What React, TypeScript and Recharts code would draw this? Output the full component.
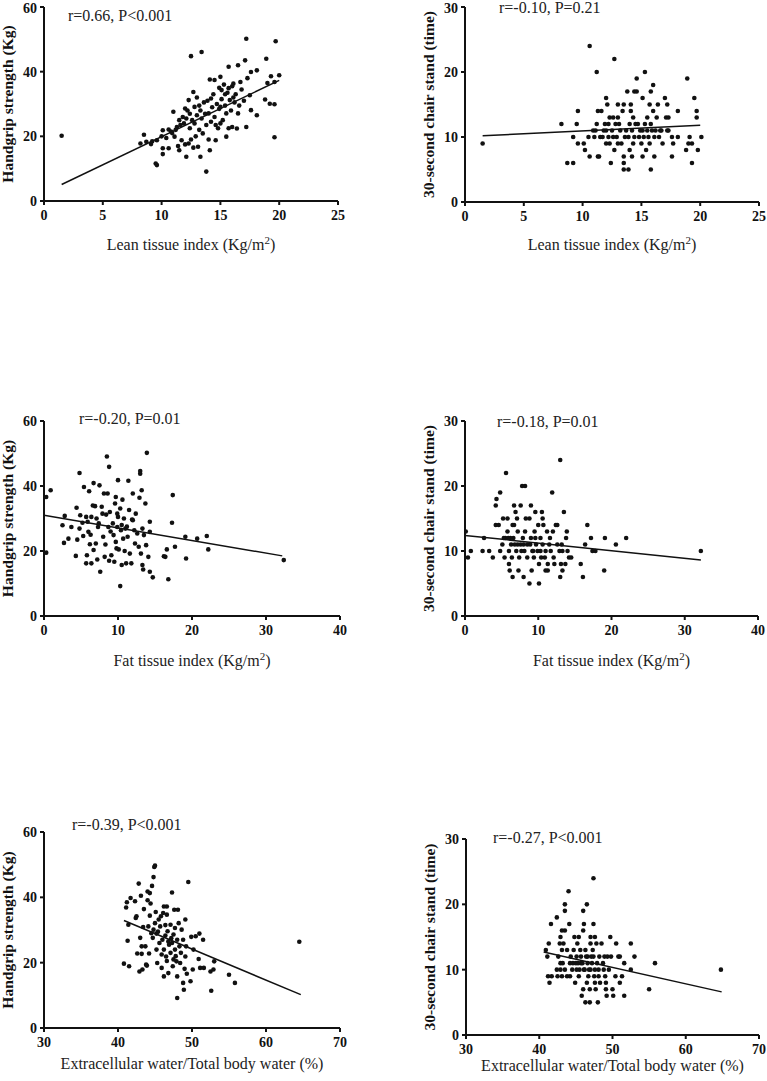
import React from 'react';
import { ScatterChart, Scatter, XAxis, YAxis, ReferenceLine } from 'recharts';

type Pt = [number, number];

const leanTicks = [0, 5, 10, 15, 20, 25];
const fatTicks = [0, 10, 20, 30, 40];
const ecwTicks = [30, 40, 50, 60, 70];
const gripTicks = [0, 20, 40, 60];
const standTicks = [0, 10, 20, 30];

const leanLabel = 'Lean tissue index (Kg/m';
const fatLabel = 'Fat tissue index (Kg/m';
const ecwLabel = 'Extracellular water/Total body water (%)';
const gripLabel = 'Handgrip strength (Kg)';
const standLabel = '30-second chair stand (time)';

// Lean tissue index vs handgrip
const leanGrip: Pt[] = [
  [1.5, 20.2], [8.2, 17.8], [8.5, 20.5], [8.7, 18.3], [9.1, 17.6], [9.2, 18.5], [9.5, 11.6], [9.6, 11.1],
  [9.6, 18.8], [10.0, 20.0], [10.1, 21.9], [10.1, 14.5], [10.1, 16.3], [10.4, 19.5], [10.6, 22.1], [10.6, 16.3],
  [10.8, 21.5], [10.9, 21.0], [11.0, 27.6], [11.1, 19.9], [11.2, 22.0], [11.3, 22.9], [11.4, 17.0], [11.5, 25.0],
  [11.5, 15.7], [11.6, 23.5], [11.7, 18.8], [11.8, 26.0], [11.9, 24.0], [12.0, 28.6], [12.0, 17.5], [12.1, 25.5],
  [12.1, 13.7], [12.2, 28.0], [12.3, 17.8], [12.3, 31.2], [12.4, 22.5], [12.5, 44.8], [12.5, 19.0], [12.6, 25.0],
  [12.7, 33.7], [12.7, 16.5], [12.8, 29.1], [12.8, 24.0], [12.9, 20.0], [13.0, 26.5], [13.0, 32.0], [13.1, 16.8],
  [13.2, 22.0], [13.3, 13.7], [13.3, 28.0], [13.4, 46.1], [13.4, 25.5], [13.5, 20.9], [13.6, 30.5], [13.7, 27.0],
  [13.8, 9.1], [13.8, 23.5], [13.9, 31.0], [14.0, 27.1], [14.0, 19.0], [14.1, 37.6], [14.1, 15.7], [14.2, 31.7],
  [14.2, 24.5], [14.3, 29.0], [14.4, 33.0], [14.5, 37.4], [14.5, 26.0], [14.6, 18.8], [14.7, 30.0], [14.8, 22.5],
  [14.9, 28.5], [15.0, 29.1], [15.0, 38.4], [15.0, 24.0], [15.1, 34.3], [15.1, 31.5], [15.2, 25.0], [15.3, 36.0],
  [15.4, 29.5], [15.5, 27.1], [15.5, 19.9], [15.6, 33.5], [15.7, 41.5], [15.7, 34.9], [15.7, 22.5], [15.8, 31.2],
  [15.9, 28.0], [16.0, 22.9], [16.0, 35.5], [16.1, 36.3], [16.2, 30.5], [16.3, 33.0], [16.4, 22.4], [16.5, 42.0],
  [16.5, 27.1], [16.6, 29.5], [16.7, 36.8], [16.8, 34.5], [17.0, 31.0], [17.1, 43.5], [17.2, 50.2], [17.2, 22.9],
  [17.3, 38.0], [17.5, 32.7], [17.6, 28.1], [17.6, 39.9], [18.1, 40.4], [18.1, 26.5], [18.8, 31.4], [18.9, 44.0],
  [19.0, 36.5], [19.2, 30.1], [19.3, 38.6], [19.6, 36.8], [19.6, 29.9], [19.6, 19.7], [19.7, 49.4], [20.0, 38.9],
  [14.9, 35.0], [15.4, 33.0], [13.2, 29.5], [12.4, 27.0], [16.1, 32.0], [14.6, 23.5],
];

// Lean tissue index vs chair stand
const leanStand: Pt[] = [
  [1.5, 9], [8.2, 12], [8.7, 6], [9.2, 6], [9.2, 10], [9.5, 12], [9.6, 14], [9.6, 9], [10.1, 9], [10.2, 8],
  [10.6, 24], [10.6, 7], [10.5, 10], [10.9, 11], [11.0, 10], [11.2, 20], [11.2, 12], [11.3, 14], [11.3, 7],
  [11.4, 7], [11.5, 10], [11.6, 14], [11.7, 10], [11.8, 11], [11.9, 12], [12.0, 16], [12.1, 15], [12.0, 9],
  [12.2, 10], [12.3, 13], [12.3, 9], [12.4, 6], [12.5, 11], [12.6, 13], [12.7, 22], [12.7, 8], [12.8, 12],
  [12.9, 10], [13.0, 15], [13.0, 9], [13.1, 12], [13.2, 11], [13.3, 9], [13.4, 14], [13.5, 15], [13.5, 7],
  [13.5, 6], [13.5, 5], [13.6, 10], [13.7, 11], [13.8, 17], [13.9, 5], [14.0, 8], [14.0, 12], [14.1, 15],
  [14.1, 14], [14.2, 11], [14.3, 13], [14.4, 10], [14.4, 17], [14.5, 12], [14.6, 17], [14.6, 19], [14.7, 12],
  [14.8, 10], [14.9, 11], [15.0, 9], [15.1, 11], [15.1, 16], [15.1, 7], [15.2, 10], [15.3, 20], [15.3, 12],
  [15.4, 8], [15.5, 13], [15.5, 11], [15.6, 10], [15.7, 15], [15.7, 9], [15.8, 17], [15.8, 5], [15.8, 12],
  [15.9, 11], [16.0, 18], [16.0, 14], [16.1, 10], [16.1, 7], [16.2, 11], [16.3, 13], [16.4, 15], [16.5, 10],
  [16.6, 11], [16.7, 11], [16.8, 9], [17.0, 16], [17.1, 13], [17.2, 15], [17.2, 11], [17.3, 13], [17.3, 11],
  [17.6, 10], [17.6, 7], [17.7, 9], [18.1, 10], [18.1, 14], [18.8, 8], [18.9, 19], [19.0, 9], [19.1, 10],
  [19.3, 9], [19.3, 6], [19.5, 16], [19.7, 14], [19.7, 13], [19.8, 8], [20.1, 10], [12.2, 12], [13.9, 10],
  [14.3, 9], [12.6, 10], [11.1, 11], [14.2, 7], [13.0, 13], [12.0, 11],
];

// Fat tissue index vs handgrip
const fatGrip: Pt[] = [
  [0.3, 36.6], [0.3, 19.5], [0.9, 38.7], [2.5, 27.9], [2.7, 22.5], [2.8, 30.8], [3.3, 23.8], [3.7, 27.4],
  [4.3, 18.5], [4.4, 33.3], [4.5, 23.5], [4.8, 44.0], [4.8, 26.9], [4.9, 31.0], [5.2, 28.7], [5.3, 24.6],
  [5.4, 39.7], [5.7, 30.5], [5.7, 16.2], [5.8, 18.7], [6.0, 25.9], [6.1, 38.4], [6.2, 22.1], [6.4, 30.5],
  [6.4, 16.2], [6.7, 20.3], [6.7, 40.9], [6.9, 33.8], [7.0, 22.3], [7.1, 30.0], [7.2, 17.4], [7.3, 27.4],
  [7.5, 40.2], [7.6, 13.6], [7.8, 33.6], [8.0, 24.4], [8.1, 37.7], [8.2, 18.2], [8.4, 31.2], [8.5, 49.1],
  [8.6, 37.7], [8.7, 27.4], [8.8, 45.9], [8.9, 32.0], [9.1, 18.7], [9.3, 28.5], [9.4, 24.9], [9.5, 16.7],
  [9.6, 34.6], [9.7, 36.6], [9.7, 22.8], [9.8, 20.8], [9.9, 27.4], [10.0, 41.8], [10.0, 30.5], [10.1, 20.5],
  [10.3, 9.2], [10.3, 33.1], [10.4, 26.4], [10.5, 15.7], [10.6, 35.8], [10.7, 23.8], [10.8, 30.0], [11.0, 26.9],
  [11.1, 16.2], [11.3, 24.4], [11.4, 41.6], [11.5, 32.6], [11.6, 19.2], [11.8, 16.2], [11.9, 29.7], [12.0, 37.7],
  [12.2, 26.4], [12.3, 22.3], [12.4, 31.5], [12.6, 25.4], [12.8, 21.3], [12.9, 36.4], [13.0, 44.6], [13.0, 43.8],
  [13.1, 19.2], [13.2, 38.7], [13.3, 26.9], [13.3, 15.7], [13.4, 14.3], [13.5, 24.9], [13.7, 34.6], [13.8, 21.8],
  [13.9, 50.2], [14.1, 18.2], [14.3, 29.0], [14.3, 25.9], [14.3, 13.6], [14.7, 11.9], [16.2, 18.4], [16.4, 18.2],
  [16.6, 20.5], [16.8, 11.3], [17.3, 28.7], [17.4, 37.2], [17.7, 21.3], [19.1, 24.4], [19.2, 17.7], [20.7, 23.8],
  [22.0, 24.6], [22.2, 20.5], [32.4, 17.2], [5.9, 29.0], [6.6, 34.0], [7.4, 28.5], [8.3, 22.0], [9.0, 26.0],
  [9.9, 31.5], [10.5, 28.0], [11.2, 27.5], [7.9, 31.5], [6.3, 25.0], [8.8, 17.0], [10.9, 20.0], [12.0, 29.5],
];

// Fat tissue index vs chair stand
const fatStand: Pt[] = [
  [0.1, 13], [0.4, 9], [0.8, 10], [2.4, 10], [2.6, 12], [3.3, 10], [3.8, 9], [4.2, 14], [4.2, 17], [4.3, 18],
  [4.6, 14], [4.8, 19], [4.8, 10], [5.1, 11], [5.2, 15], [5.4, 9], [5.5, 12], [5.6, 22], [5.8, 13], [5.8, 15],
  [6.0, 10], [6.0, 8], [6.1, 7], [6.5, 6], [6.3, 11], [6.4, 9], [6.5, 14], [6.7, 14], [6.6, 12], [6.7, 17],
  [6.9, 16], [7.0, 10], [7.1, 15], [7.2, 13], [7.3, 7], [7.4, 9], [7.6, 11], [7.6, 17], [7.8, 20], [8.2, 20],
  [7.9, 12], [8.0, 6], [8.1, 10], [8.2, 13], [8.3, 15], [8.8, 15], [8.5, 9], [8.5, 11], [8.8, 5], [9.0, 17],
  [9.0, 12], [9.1, 7], [9.2, 10], [9.4, 9], [9.5, 13], [9.6, 16], [9.7, 11], [9.9, 10], [10.0, 14], [10.1, 8],
  [10.1, 5], [10.3, 12], [10.4, 9], [10.5, 16], [10.6, 15], [10.6, 11], [10.7, 14], [11.0, 7], [11.3, 7],
  [11.0, 10], [11.2, 13], [11.3, 8], [11.5, 11], [11.6, 12], [11.7, 10], [11.9, 19], [12.0, 13], [12.1, 9],
  [12.2, 8], [12.4, 14], [12.6, 14], [12.6, 11], [12.9, 10], [13.0, 24], [13.1, 8], [13.0, 6], [13.2, 11],
  [13.3, 10], [13.3, 7], [13.5, 16], [13.7, 8], [13.8, 12], [13.9, 13], [14.0, 10], [14.2, 9], [14.5, 9],
  [15.8, 8], [16.1, 6], [16.4, 11], [16.7, 14], [17.2, 12], [17.4, 10], [17.8, 10], [19.0, 7], [19.1, 12],
  [20.6, 11], [22.0, 12], [32.2, 10], [6.2, 12], [7.2, 11], [8.0, 11], [8.9, 11], [9.6, 12], [10.3, 10],
  [6.8, 11], [7.7, 10], [9.3, 10], [10.9, 9], [5.3, 12], [5.9, 12],
];

// ECW/TBW vs handgrip
const ecwGrip: Pt[] = [
  [40.8, 19.7], [41.1, 36.9], [41.2, 38.5], [41.3, 26.7], [41.4, 31.6], [41.5, 18.9], [41.7, 39.8], [42.3, 38.8],
  [42.4, 33.7], [42.5, 34.2], [42.6, 22.8], [42.8, 44.2], [42.9, 17.3], [43.0, 27.6], [43.1, 40.5], [43.2, 22.7],
  [43.2, 25.0], [43.3, 17.9], [43.4, 30.9], [43.5, 36.4], [43.7, 25.0], [43.8, 19.4], [43.9, 19.1], [44.0, 39.1],
  [44.0, 41.8], [44.1, 31.1], [44.2, 22.8], [44.3, 34.4], [44.3, 41.3], [44.4, 38.1], [44.6, 43.5], [44.7, 27.6],
  [44.8, 46.2], [44.8, 30.1], [44.9, 49.3], [45.0, 49.7], [45.0, 32.1], [45.2, 24.0], [45.2, 28.9], [45.3, 19.9],
  [45.5, 33.2], [45.6, 26.0], [45.7, 31.1], [45.8, 34.2], [45.9, 18.4], [46.1, 35.2], [46.2, 37.2], [46.2, 24.0],
  [46.2, 15.8], [46.4, 28.3], [46.5, 21.9], [46.6, 34.7], [46.6, 37.2], [46.7, 29.6], [46.8, 26.5], [46.8, 16.8],
  [47.3, 41.5], [47.1, 23.0], [47.1, 31.6], [47.3, 26.0], [47.4, 18.9], [47.5, 28.6], [47.6, 36.2], [47.7, 24.0],
  [47.7, 30.6], [47.9, 20.4], [48.0, 27.0], [48.0, 15.8], [48.0, 9.2], [48.1, 36.2], [48.2, 32.1], [48.3, 25.0],
  [48.4, 19.9], [48.6, 30.1], [48.8, 13.8], [48.9, 11.7], [49.0, 18.1], [49.1, 21.9], [49.1, 33.2], [49.2, 25.0],
  [49.3, 16.6], [49.5, 44.7], [49.8, 14.3], [49.9, 27.9], [50.1, 17.9], [50.2, 24.0], [50.5, 28.1], [50.9, 21.1],
  [51.0, 28.9], [51.1, 18.4], [51.5, 27.0], [51.6, 18.4], [52.5, 17.3], [52.6, 11.4], [52.9, 17.9], [53.0, 20.4],
  [55.0, 16.3], [55.8, 13.8], [64.5, 26.4], [45.4, 29.5], [46.0, 27.0], [46.9, 25.5], [47.2, 27.5], [45.9, 22.5],
  [46.4, 31.5], [47.8, 22.0], [48.5, 23.0], [44.5, 29.0], [46.6, 20.5], [47.5, 21.0], [45.1, 35.5], [48.8, 27.0],
];

// ECW/TBW vs chair stand
const ecwStand: Pt[] = [
  [40.9, 13], [41.1, 12], [41.3, 14], [41.2, 9], [41.4, 8], [41.6, 17], [41.7, 9], [42.4, 18], [42.4, 10],
  [42.9, 10], [42.5, 9], [43.1, 9], [42.6, 12], [42.8, 14], [42.9, 11], [42.9, 15], [43.1, 16], [43.5, 16],
  [43.1, 13], [43.2, 11], [43.3, 14], [43.5, 19], [43.5, 20], [43.5, 10], [43.8, 13], [43.8, 9], [44.0, 22],
  [44.1, 17], [44.2, 11], [44.2, 9], [44.3, 12], [44.5, 10], [44.7, 13], [44.8, 15], [44.9, 8], [45.0, 11],
  [45.1, 12], [45.2, 14], [45.4, 15], [45.4, 9], [45.5, 10], [45.6, 13], [45.7, 12], [45.7, 11], [45.8, 6],
  [46.0, 7], [46.0, 19], [46.0, 16], [46.1, 17], [46.1, 10], [46.3, 13], [46.3, 5], [46.4, 12], [46.6, 12],
  [46.5, 20], [46.5, 8], [46.6, 11], [46.7, 9], [46.9, 7], [46.9, 5], [47.0, 14], [47.0, 15], [47.0, 10],
  [47.2, 11], [47.3, 13], [47.4, 24], [47.4, 17], [47.4, 12], [47.5, 9], [47.6, 15], [47.6, 8], [47.7, 7],
  [47.8, 14], [47.9, 11], [48.0, 5], [48.1, 10], [48.1, 9], [48.2, 12], [48.3, 8], [48.5, 14], [48.7, 11],
  [48.8, 10], [48.9, 12], [49.0, 9], [49.1, 8], [49.1, 7], [49.2, 6], [49.3, 12], [49.5, 10], [49.7, 15],
  [49.8, 12], [50.0, 7], [50.1, 6], [50.4, 9], [50.5, 14], [50.8, 12], [51.0, 12], [51.0, 8], [51.3, 9],
  [51.6, 11], [51.6, 6], [52.5, 14], [52.5, 10], [53.0, 12], [55.0, 7], [55.8, 11], [64.8, 10],
  [45.3, 11], [45.9, 11], [46.8, 10], [47.6, 10], [46.2, 10], [44.6, 11], [45.1, 10], [47.1, 12],
];

const leanGripFit: Pt[] = [[1.5, 5.1], [20.0, 37.3]];
const leanStandFit: Pt[] = [[1.5, 10.2], [20.0, 11.8]];
const fatGripFit: Pt[] = [[0, 31.0], [32.2, 18.5]];
const fatStandFit: Pt[] = [[0, 12.4], [32.2, 8.6]];
const ecwGripFit: Pt[] = [[40.8, 32.9], [64.7, 10.2]];
const ecwStandFit: Pt[] = [[40.6, 12.7], [64.9, 6.6]];

const FONT = "'Liberation Serif', 'Times New Roman', serif";

interface PanelProps {
  box: [number, number, number, number];
  plot: [number, number, number, number];
  data: Pt[];
  fit: Pt[];
  xTicks: number[];
  yTicks: number[];
  xLabel: string;
  sup?: boolean;
  yLabel: string;
  note: string;
  noteAt: [number, number];
  xLabelY: number;
}

const Dot = (p: any) => <circle cx={p.cx} cy={p.cy} r={2.3} fill="#111" />;

const Panel: React.FC<PanelProps> = ({
  box, plot, data, fit, xTicks, yTicks, xLabel, sup, yLabel, note, noteAt, xLabelY,
}) => {
  const [cx, cy, W, H] = box;
  const [l, t, r, b] = plot;
  const yw = 30;
  const xh = 30;
  const margin = { top: t - cy, left: l - cx - yw, right: cx + W - r, bottom: cy + H - b - xh };
  const pts = data.map(([x, y]) => ({ x, y }));
  const midX = (l + r) / 2 - cx;
  const midY = (t + b) / 2 - cy;
  const yLx = l - cx - 31;
  const tick = { fontSize: 14, fontWeight: 700, fill: '#111', fontFamily: FONT };
  const axisLine = { stroke: '#111', strokeWidth: 2 };

  return (
    <div style={{ position: 'absolute', left: cx, top: cy }}>
      <ScatterChart width={W} height={H} margin={margin}>
        <XAxis
          type="number"
          dataKey="x"
          domain={[xTicks[0], xTicks[xTicks.length - 1]]}
          ticks={xTicks}
          height={xh}
          allowDataOverflow
          tick={tick}
          tickSize={4}
          tickMargin={5}
          axisLine={axisLine}
          tickLine={axisLine}
        />
        <YAxis
          type="number"
          dataKey="y"
          domain={[yTicks[0], yTicks[yTicks.length - 1]]}
          ticks={yTicks}
          width={yw}
          allowDataOverflow
          tick={tick}
          tickSize={4}
          tickMargin={3}
          axisLine={axisLine}
          tickLine={axisLine}
        />
        <ReferenceLine
          segment={[{ x: fit[0][0], y: fit[0][1] }, { x: fit[1][0], y: fit[1][1] }]}
          stroke="#111"
          strokeWidth={1.5}
          ifOverflow="visible"
        />
        <Scatter data={pts} fill="#111" shape={Dot} isAnimationActive={false} />
        <text x={noteAt[0] - cx} y={noteAt[1] - cy} fontSize={16} fontFamily={FONT} fill="#222">
          {note}
        </text>
        <text x={midX} y={xLabelY - cy} textAnchor="middle" fontSize={16} fontFamily={FONT} fill="#222">
          <tspan>{xLabel}</tspan>
          {sup && <tspan dy={-6} fontSize={11}>2</tspan>}
          {sup && <tspan dy={6}>)</tspan>}
        </text>
        <text
          x={yLx}
          y={midY}
          transform={`rotate(-90 ${yLx} ${midY})`}
          textAnchor="middle"
          fontSize={15.5}
          fontWeight={700}
          fontFamily={FONT}
          fill="#111"
        >
          {yLabel}
        </text>
      </ScatterChart>
    </div>
  );
};

export default function App() {
  return (
    <div style={{ position: 'absolute', left: 0, top: 0, width: 767, height: 1081, background: '#fff' }}>
      <Panel
        box={[0, 0, 380, 260]} plot={[44, 7, 338, 201]} data={leanGrip} fit={leanGripFit}
        xTicks={leanTicks} yTicks={gripTicks} xLabel={leanLabel} sup yLabel={gripLabel}
        note="r=0.66, P<0.001" noteAt={[68, 21]} xLabelY={250}
      />
      <Panel
        box={[380, 0, 387, 260]} plot={[465, 7, 759, 202]} data={leanStand} fit={leanStandFit}
        xTicks={leanTicks} yTicks={standTicks} xLabel={leanLabel} sup yLabel={standLabel}
        note="r=-0.10, P=0.21" noteAt={[499, 13]} xLabelY={250}
      />
      <Panel
        box={[0, 400, 380, 270]} plot={[44, 421, 340, 616]} data={fatGrip} fit={fatGripFit}
        xTicks={fatTicks} yTicks={gripTicks} xLabel={fatLabel} sup yLabel={gripLabel}
        note="r=-0.20, P=0.01" noteAt={[79, 424]} xLabelY={666}
      />
      <Panel
        box={[380, 400, 387, 270]} plot={[465, 421, 758, 616]} data={fatStand} fit={fatStandFit}
        xTicks={fatTicks} yTicks={standTicks} xLabel={fatLabel} sup yLabel={standLabel}
        note="r=-0.18, P=0.01" noteAt={[497, 427]} xLabelY={666}
      />
      <Panel
        box={[0, 810, 380, 271]} plot={[44, 832, 340, 1028]} data={ecwGrip} fit={ecwGripFit}
        xTicks={ecwTicks} yTicks={gripTicks} xLabel={ecwLabel} yLabel={gripLabel}
        note="r=-0.39, P<0.001" noteAt={[72, 830]} xLabelY={1069}
      />
      <Panel
        box={[380, 810, 387, 271]} plot={[466, 839, 759, 1035]} data={ecwStand} fit={ecwStandFit}
        xTicks={ecwTicks} yTicks={standTicks} xLabel={ecwLabel} yLabel={standLabel}
        note="r=-0.27, P<0.001" noteAt={[493, 843]} xLabelY={1071}
      />
    </div>
  );
}
